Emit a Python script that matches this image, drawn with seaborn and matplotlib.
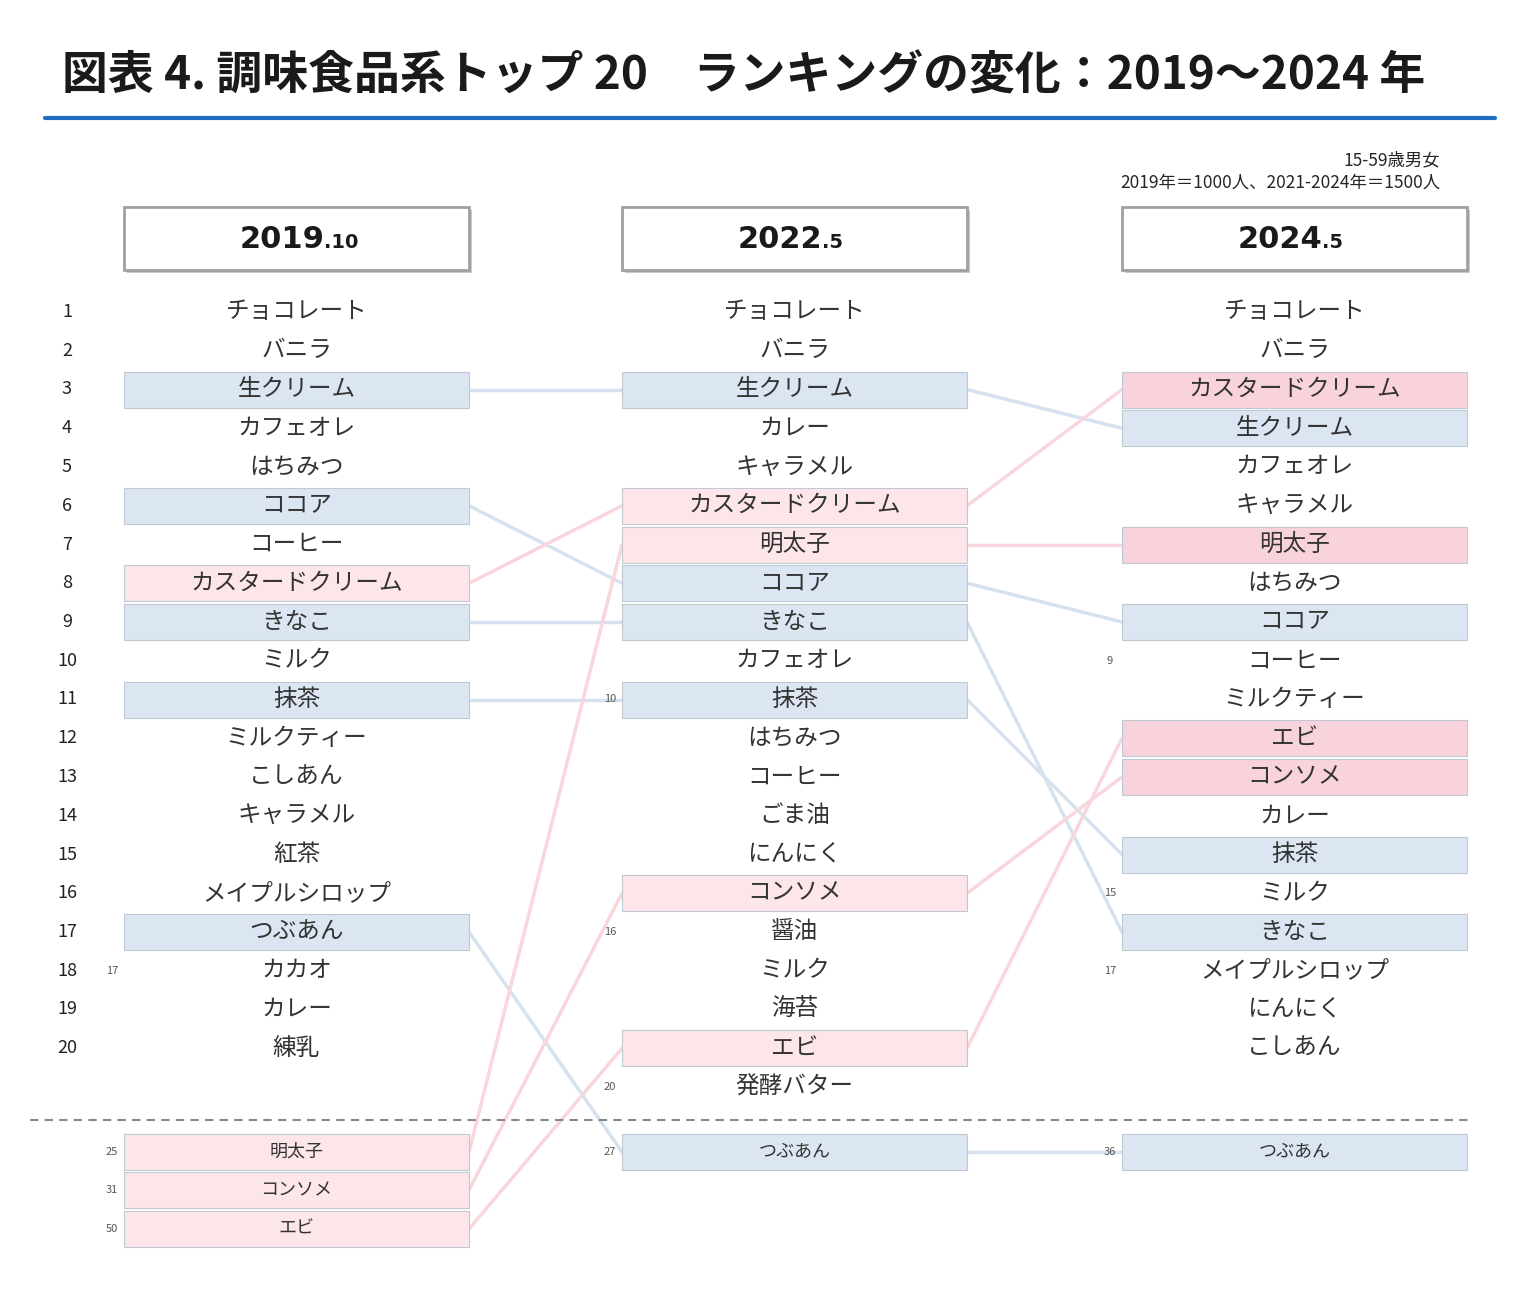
import matplotlib.pyplot as plt
import seaborn as sns
import pandas as pd
from matplotlib.patches import Rectangle

sns.set_theme(style="white", font="Noto Sans CJK JP")

titel = "図表 4. 調味食品系トップ 20　ランキングの変化：2019～2024 年"
naglowki = [("2019", ".10"), ("2022", ".5"), ("2024", ".5")]

kol1 = ["チョコレート", "バニラ", "生クリーム", "カフェオレ", "はちみつ", "ココア", "コーヒー",
        "カスタードクリーム", "きなこ", "ミルク", "抹茶", "ミルクティー", "こしあん", "キャラメル",
        "紅茶", "メイプルシロップ", "つぶあん", "カカオ", "カレー", "練乳"]
kol2 = ["チョコレート", "バニラ", "生クリーム", "カレー", "キャラメル", "カスタードクリーム", "明太子",
        "ココア", "きなこ", "カフェオレ", "抹茶", "はちみつ", "コーヒー", "ごま油", "にんにく",
        "コンソメ", "醤油", "ミルク", "海苔", "エビ", "発酵バター"]
kol3 = ["チョコレート", "バニラ", "カスタードクリーム", "生クリーム", "カフェオレ", "キャラメル",
        "明太子", "はちみつ", "ココア", "コーヒー", "ミルクティー", "エビ", "コンソメ", "カレー",
        "抹茶", "ミルク", "きなこ", "メイプルシロップ", "にんにく", "こしあん"]
# pozycje spoza top 20
extra1 = [("明太子", "25"), ("コンソメ", "31"), ("エビ", "50")]
extra2 = [("つぶあん", "27")]
extra3 = [("つぶあん", "36")]
# male numery (remisy)
male1 = {18: "17"}
male2 = {11: "10", 17: "16", 21: "20"}
male3 = {10: "9", 16: "15", 18: "17"}

niebieskie = ["生クリーム", "ココア", "きなこ", "抹茶", "つぶあん"]
rozowe = ["カスタードクリーム", "明太子", "コンソメ", "エビ"]

fig = plt.figure(figsize=(15.4, 13), dpi=100)
ax = fig.add_axes([0, 0, 1, 1])

ax.text(62, 76, titel, fontsize=33, fontweight="bold", va="center", ha="left", color="#1a1a1a")
ax.plot([45, 1495], [118, 118], color="#1f6fc0", lw=3)
ax.text(1440, 160, "15-59歳男女", ha="right", va="center", fontsize=12.5)
ax.text(1440, 183, "2019年＝1000人、2021-2024年＝1500人", ha="right", va="center", fontsize=12.5)

lewe = [124, 622, 1122]
szer = 345
def y_rank(i):
    return 312 + (i - 1) * 38.75
y_extra = [1152, 1190, 1229]

kolumny = [kol1, kol2, kol3]
extras = [extra1, extra2, extra3]
male = [male1, male2, male3]
pozycje = []
for k in range(3):
    x0 = lewe[k]
    cx = x0 + szer / 2
    ax.add_patch(Rectangle((x0 + 3, 210), szer, 63, facecolor="#c8c8c8", edgecolor="none"))
    ax.add_patch(Rectangle((x0, 207), szer, 63, facecolor="white", edgecolor="#a0a0a0", lw=2))
    ax.text(cx + 28, 240, naglowki[k][0], ha="right", va="center", fontsize=22,
            fontweight="bold", family="DejaVu Sans", color="#1a1a1a")
    ax.text(cx + 28, 243, naglowki[k][1], ha="left", va="center", fontsize=14,
            fontweight="bold", family="DejaVu Sans", color="#1a1a1a")
    poz = {}
    wiersze = [(n, y_rank(i + 1), 17) for i, n in enumerate(kolumny[k])]
    wiersze += [(n, y_extra[j], 13) for j, (n, r) in enumerate(extras[k])]
    for n, y, fs in wiersze:
        kolor = None
        if n in niebieskie:
            kolor = "#dce6f2"
        elif n in rozowe:
            kolor = "#f9d3db" if k == 2 else "#fde6ea"
        if kolor:
            ax.add_patch(Rectangle((x0, y - 18), szer, 36, facecolor=kolor,
                                   edgecolor="#c0c8d4", lw=0.8))
        ax.text(cx, y, n, ha="center", va="center", fontsize=fs, color="#333333")
        poz[n] = y
    pozycje.append(poz)
    for i, s in male[k].items():
        ax.text(x0 - 12, y_rank(i), s, ha="center", va="center", fontsize=8, color="#555555")
    for j, (n, r) in enumerate(extras[k]):
        ax.text(x0 - 12, y_extra[j], r, ha="center", va="center", fontsize=8, color="#555555")

for i in range(1, 21):
    ax.text(67, y_rank(i), str(i), ha="center", va="center", fontsize=13, color="#222222")

ax.plot([30, 1470], [1120, 1120], color="#888888", lw=1.5, ls=(0, (4, 3)))

# linie laczace
for k in range(2):
    for n in niebieskie + rozowe:
        if n in pozycje[k] and n in pozycje[k + 1]:
            kol = "#d6e2f0" if n in niebieskie else "#f9d6dd"
            df = pd.DataFrame({"x": [lewe[k] + szer, lewe[k + 1]],
                               "y": [pozycje[k][n], pozycje[k + 1][n]]})
            sns.lineplot(data=df, x="x", y="y", ax=ax, color=kol, lw=2.5, zorder=0,
                         sort=False, estimator=None)
ax.set_xlim(0, 1540)
ax.set_ylim(1300, 0)
ax.axis("off")

fig.savefig("out.png", dpi=100)
